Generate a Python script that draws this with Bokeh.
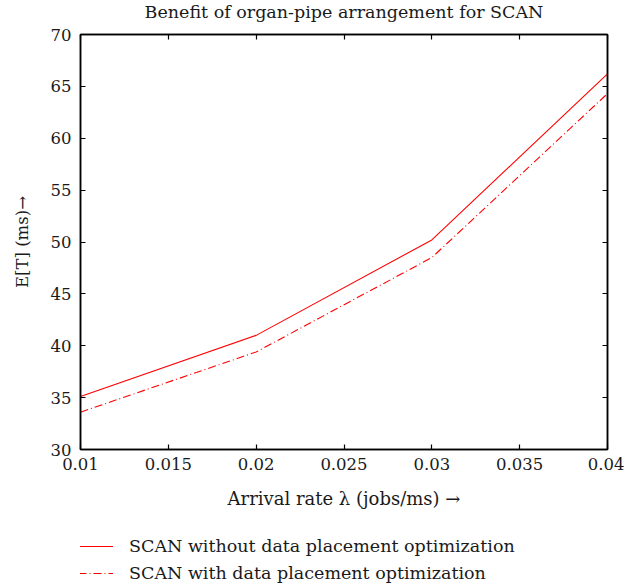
from bokeh.plotting import figure
from bokeh.layouts import column
from bokeh.models import LinearAxis, FixedTicker, Legend, LegendItem, Range1d, Label
from bokeh.embed import file_html
from bokeh.resources import INLINE

# data
x = [0.01, 0.02, 0.03, 0.04]
without_opt = [35.1, 41.0, 50.2, 66.2]
with_opt = [33.6, 39.4, 48.5, 64.3]
x_ticks = [0.01, 0.015, 0.02, 0.025, 0.03, 0.035, 0.04]
x_tick_labels = ["0.01", "0.015", "0.02", "0.025", "0.03", "0.035", "0.04"]
y_ticks = [30, 35, 40, 45, 50, 55, 60, 65, 70]
series_labels = ["SCAN without data placement optimization",
                 "SCAN with data placement optimization"]
series_values = [without_opt, with_opt]
title_text = "Benefit of organ-pipe arrangement for SCAN"

FONT = "DejaVu Serif"
TEXT_COLOR = "#1a1a1a"
LINE_STYLES = [dict(line_color="red", line_width=1.1),
               dict(line_color="red", line_width=1.1, line_dash="8 3 1 3")]

# title strip
pt = figure(width=624, height=22, x_range=Range1d(0, 1), y_range=Range1d(0, 1),
            output_backend="svg", toolbar_location=None,
            x_axis_location=None, y_axis_location=None,
            min_border=0, outline_line_color=None)
pt.grid.visible = False
pt.add_layout(Label(x=0.5, y=0.5, text=title_text, text_align="center",
                    text_baseline="middle", text_font=FONT,
                    text_font_size="17.5px", text_color=TEXT_COLOR))

p = figure(frame_width=527, frame_height=415,
           x_range=Range1d(0.01, 0.04), y_range=Range1d(30, 70),
           output_backend="svg", toolbar_location=None,
           min_border_left=80, min_border_right=17, min_border_top=12,
           min_border_bottom=72,
           x_axis_location=None, y_axis_location=None)
p.grid.visible = False
p.outline_line_color = "black"
p.outline_line_width = 1.5

def style_axis(ax, ticks, show_labels):
    ax.ticker = FixedTicker(ticks=ticks)
    ax.major_tick_in = 5
    ax.major_tick_out = 0
    ax.minor_tick_line_color = None
    ax.axis_line_width = 1.5
    ax.axis_line_color = "black"
    ax.major_tick_line_width = 1.2
    ax.major_tick_line_color = "black"
    ax.major_label_text_font = FONT
    ax.major_label_text_font_size = "16.5px" if show_labels else "1px"
    ax.major_label_text_color = TEXT_COLOR if show_labels else None
    ax.major_label_standoff = 9
    ax.axis_label_text_font = FONT
    ax.axis_label_text_font_size = "18px"
    ax.axis_label_text_font_style = "normal"
    ax.axis_label_text_color = TEXT_COLOR

xb = LinearAxis(axis_label="Arrival rate λ (jobs/ms) →")
style_axis(xb, x_ticks, True)
xb.major_label_overrides = {t: l for t, l in zip(x_ticks, x_tick_labels)}
xb.major_label_standoff = 8
xb.axis_label_standoff = 15
p.add_layout(xb, "below")

yl = LinearAxis(axis_label="E[T] (ms)→")
style_axis(yl, y_ticks, True)
yl.axis_label_text_font_size = "16.5px"
yl.axis_label_standoff = 16
p.add_layout(yl, "left")

xt = LinearAxis()
style_axis(xt, x_ticks, False)
xt.major_label_standoff = 0
p.add_layout(xt, "above")

yr = LinearAxis()
style_axis(yr, y_ticks, False)
yr.major_label_standoff = 0
p.add_layout(yr, "right")

for vals, st in zip(series_values, LINE_STYLES):
    p.line(x, vals, **st)

# legend strip below the chart (its lines lie outside its visible ranges)
pl = figure(width=624, height=67, x_range=Range1d(0, 1), y_range=Range1d(0, 1),
            output_backend="svg", toolbar_location=None,
            x_axis_location=None, y_axis_location=None,
            min_border=0, outline_line_color=None)
pl.grid.visible = False
lr = [pl.line(x, vals, **st) for vals, st in zip(series_values, LINE_STYLES)]
legend = Legend(items=[LegendItem(label=lab, renderers=[r])
                       for lab, r in zip(series_labels, lr)],
                location=(-2, 5), orientation="vertical")
legend.label_text_font = FONT
legend.label_text_font_size = "17.5px"
legend.label_text_color = TEXT_COLOR
legend.glyph_width = 35
legend.glyph_height = 20
legend.label_height = 20
legend.label_standoff = 16
legend.spacing = 7
legend.border_line_color = None
legend.background_fill_alpha = 0
legend.margin = 0
legend.padding = 0
pl.add_layout(legend, "center")

open("out.html", "w").write(file_html(column(pt, p, pl, spacing=0), INLINE))
